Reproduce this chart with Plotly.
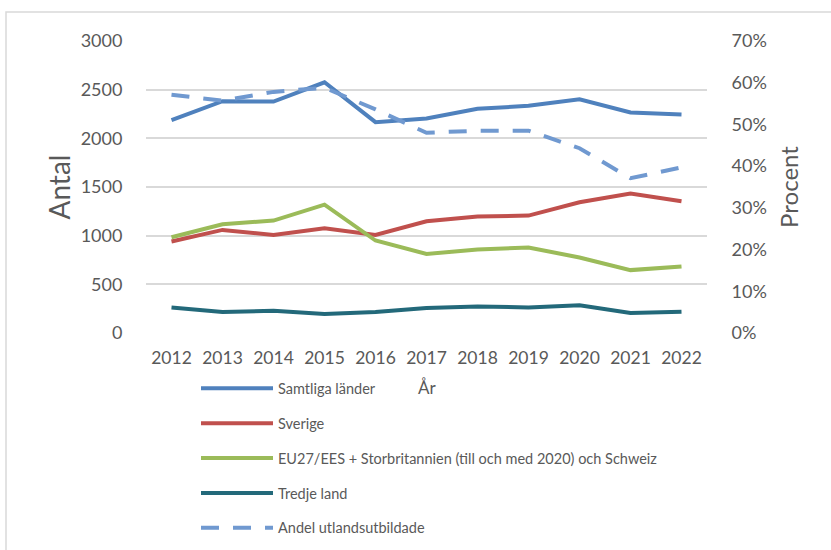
import plotly.graph_objects as go

years = ["2012", "2013", "2014", "2015", "2016", "2017", "2018", "2019", "2020", "2021", "2022"]
samtliga = [2187, 2382, 2378, 2576, 2166, 2204, 2303, 2334, 2402, 2265, 2245]
sverige = [940, 1059, 1008, 1076, 1008, 1148, 1196, 1206, 1343, 1432, 1353]
eu = [984, 1117, 1155, 1319, 950, 813, 858, 878, 776, 646, 683]
tredje = [263, 215, 229, 195, 215, 256, 273, 263, 284, 205, 219]
andel = [0.571, 0.557, 0.578, 0.588, 0.536, 0.480, 0.485, 0.485, 0.443, 0.371, 0.397]

names = ["Samtliga länder", "Sverige",
         "EU27/EES + Storbritannien (till och med 2020) och Schweiz", "Tredje land"]
colors = ["#4F81BD", "#C0504D", "#9BBB59", "#23697A"]
series = [samtliga, sverige, eu, tredje]

FONT = "Lato, Carlito, 'Liberation Sans', sans-serif"
GREY = "#595959"

W, H = 831, 550
L, T = 146, 41
PW, PH = 561, 292

fig = go.Figure()
for i, (n, c, s) in enumerate(zip(names, colors, series)):
    fig.add_trace(go.Scatter(x=years, y=s, name=n, mode="lines",
                             line=dict(color=c, width=4),
                             legendgroup=f"g{i}"))
fig.add_trace(go.Scatter(x=years, y=andel, name="Andel utlandsutbildade", mode="lines",
                         line=dict(color="#7099D0", width=4, dash="18px,14px"),
                         yaxis="y2", legendgroup="g4"))

fig.update_layout(
    width=W, height=H,
    margin=dict(l=L, r=W - L - PW, t=T, b=H - T - PH, autoexpand=False),
    paper_bgcolor="white", plot_bgcolor="white",
    font=dict(family=FONT, color=GREY, size=16),
    showlegend=True,
    legend=dict(x=(196 - L) / PW, y=-0.135, xanchor="left", yanchor="top",
                orientation="v", tracegroupgap=13,
                font=dict(size=14.5, color=GREY), itemwidth=72,
                bgcolor="rgba(0,0,0,0)"),
    xaxis=dict(type="category", range=[-0.5, 10.5], showgrid=False,
               showline=False, zeroline=False,
               ticks="outside", ticklen=9, tickcolor="rgba(0,0,0,0)",
               tickfont=dict(size=17.5, color=GREY)),
    yaxis=dict(range=[0, 3000], dtick=500, showgrid=True,
               gridcolor="#D9D9D9", gridwidth=1.5, zeroline=False,
               ticks="outside", ticklen=19, tickcolor="rgba(0,0,0,0)",
               tickfont=dict(size=18, color=GREY),
               title=dict(text="Antal", font=dict(size=28, color=GREY), standoff=1)),
    yaxis2=dict(range=[0, 0.7], dtick=0.1, tickformat=".0%", overlaying="y",
                side="right", showgrid=False, zeroline=False,
                ticks="outside", ticklen=20, tickcolor="rgba(0,0,0,0)",
                tickfont=dict(size=18, color=GREY),
                title=dict(text="Procent", font=dict(size=24, color=GREY), standoff=15)),
    shapes=[dict(type="rect", xref="paper", yref="paper",
                 x0=(6 - L) / PW, x1=(W + 10 - L) / PW,
                 y0=(T + PH - H - 10) / PH, y1=(T + PH - 12) / PH,
                 line=dict(color="#D9D9D9", width=1.5), fillcolor="rgba(0,0,0,0)",
                 layer="below")],
    annotations=[dict(text="År", xref="paper", yref="paper",
                      x=(427 - L) / PW, y=-0.23,
                      showarrow=False, font=dict(size=17, color=GREY))],
)

fig.write_html("out.html", config={"displayModeBar": False},
               post_script="document.body.style.margin='0';document.body.style.padding='0';")
